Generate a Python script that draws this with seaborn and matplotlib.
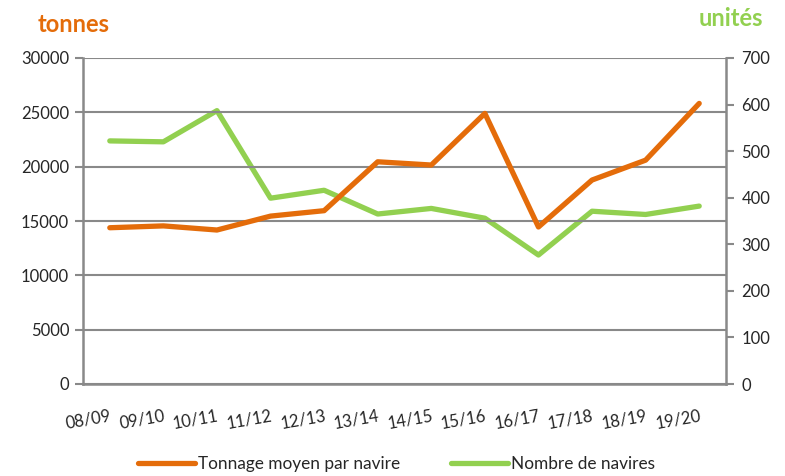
import matplotlib
matplotlib.use("Agg")
import matplotlib.pyplot as plt
import seaborn as sns
import pandas as pd
import numpy as np
from matplotlib.ticker import FixedLocator

seasons = ["08/09", "09/10", "10/11", "11/12", "12/13", "13/14",
           "14/15", "15/16", "16/17", "17/18", "18/19", "19/20"]
tonnage = [14380, 14550, 14170, 15450, 15950, 20450,
           20150, 24900, 14450, 18770, 20600, 25820]
navires = [522, 520, 587, 399, 416, 365, 377, 356, 277, 371, 364, 382]

ORANGE = "#E46C0A"
GREEN = "#92D050"
GRAY = "#898989"

sns.set_theme(style="white")
plt.rcParams["font.family"] = ["Lato", "DejaVu Sans"]

df = pd.DataFrame({"saison": seasons, "tonnage": tonnage, "navires": navires})
df["pos"] = np.arange(len(seasons))

fig = plt.figure(figsize=(7.85, 4.76), dpi=100)
ax = fig.add_axes([83/785, 1-384/476, (726-83)/785, (384-58)/476])
ax2 = ax.twinx()

sns.lineplot(data=df, x="pos", y="tonnage", ax=ax, color=ORANGE, lw=3.8,
             label="Tonnage moyen par navire", legend=False,
             solid_capstyle="round")
sns.lineplot(data=df, x="pos", y="navires", ax=ax2, color=GREEN, lw=3.8,
             label="Nombre de navires", legend=False,
             solid_capstyle="round")
ax2.set_zorder(ax.get_zorder() - 1)
ax.patch.set_visible(False)

ax.set_xlim(-0.5, len(seasons) - 0.5)
ax.set_ylim(0, 30000)
ax2.set_ylim(0, 700)
ax.set_yticks(np.arange(0, 30001, 5000))
ax2.set_yticks(np.arange(0, 701, 100))

ax.set_xticks(np.arange(len(seasons)))
ax.set_xticklabels(seasons, rotation=10, fontsize=12, ha="right",
                   rotation_mode="anchor")
ax.xaxis.set_minor_locator(FixedLocator(np.arange(-0.5, len(seasons), 1.0)))
ax.tick_params(axis="x", which="major", length=0, pad=17)
ax.tick_params(axis="x", which="minor", length=5, width=1.5, color=GRAY, direction="out")
ax.tick_params(axis="y", length=6, width=1.5, color=GRAY, direction="out", labelsize=12, pad=4)
ax2.tick_params(axis="y", length=6, width=1.5, color=GRAY, direction="out", labelsize=12, pad=5)
ax.set_xlabel("")
ax.set_ylabel("")
ax2.set_ylabel("")

ax.yaxis.grid(True, color=GRAY, lw=1.5)
ax.xaxis.grid(False)
ax2.grid(False)

for a in (ax, ax2):
    a.spines["top"].set_visible(False)
    for s in ("left", "right", "bottom"):
        a.spines[s].set_color(GRAY)
        a.spines[s].set_linewidth(1.8)
ax.spines["right"].set_visible(False)
ax2.spines["left"].set_visible(False)
ax2.spines["bottom"].set_visible(False)

fig.text(38/785, 1-24/476, "tonnes", color=ORANGE, fontsize=17, fontweight="bold",
         ha="left", va="center")
fig.text(763/785, 1-18/476, "unités", color=GREEN, fontsize=17, fontweight="bold",
         ha="right", va="center")

h1, l1 = ax.get_legend_handles_labels()
h2, l2 = ax2.get_legend_handles_labels()
fig.legend(h1 + h2, l1 + l2, loc="center", bbox_to_anchor=(0.505, 1-464/476),
           ncol=2, frameon=False, fontsize=12.4, handlelength=3.3,
           handletextpad=0.15, columnspacing=3.0)

fig.savefig("out.png", dpi=100)
